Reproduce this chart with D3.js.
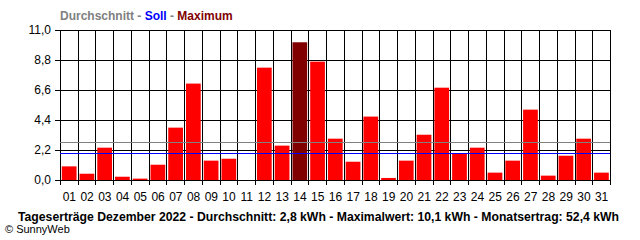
<!DOCTYPE html>
<html>
<head>
<meta charset="utf-8">
<script src="https://cdn.jsdelivr.net/npm/d3@7"></script>
<style>
  body { margin: 0; background: #fff; }
  svg { display: block; font-family: "Liberation Sans", Arial, sans-serif; }
  .tick text { font-size: 12px; fill: #000; }
</style>
</head>
<body>
<div id="chart"></div>
<script>
// daily yields, Dezember 2022 (kWh)
const days = ['01','02','03','04','05','06','07','08','09','10','11','12','13','14','15','16',
              '17','18','19','20','21','22','23','24','25','26','27','28','29','30','31'];
const yields = [1.0, 0.46, 2.37, 0.24, 0.1, 1.12, 3.84, 7.07, 1.42, 1.56, 0, 8.24, 2.52, 10.1, 8.68, 3.03,
                1.34, 4.65, 0.15, 1.42, 3.32, 6.77, 1.98, 2.37, 0.54, 1.42, 5.16, 0.32, 1.78, 3.03, 0.54];
const yTicks = [0, 2.2, 4.4, 6.6, 8.8, 11];
const average = 2.8;
const target = 2.0;
const footer = 'Tageserträge Dezember 2022 - Durchschnitt: 2,8 kWh - Maximalwert: 10,1 kWh - Monatsertrag: 52,4 kWh';

const width = 640, height = 240;
const margin = {top: 30, right: 30, bottom: 60, left: 60};

const svg = d3.select('#chart').append('svg')
    .attr('width', width)
    .attr('height', height);

const x = d3.scaleBand()
    .domain(days)
    .range([margin.left, width - margin.right])
    .padding(0);

const y = d3.scaleLinear()
    .domain([0, 11])
    .range([height - margin.bottom, margin.top]);

const fmt = d => d3.format('.1f')(d).replace('.', ',');

// horizontal grid + y labels
const yAxis = svg.append('g')
    .attr('transform', `translate(${margin.left},0)`)
    .call(d3.axisLeft(y)
        .tickValues(yTicks)
        .tickSize(5)
        .tickFormat(fmt));
yAxis.select('.domain').remove();
yAxis.selectAll('.tick line')
    .attr('x1', -5)
    .attr('x2', width - margin.right - margin.left)
    .attr('stroke', '#000');
yAxis.selectAll('.tick text').attr('x', -9);

// vertical grid (slot boundaries) + ticks below axis
const bounds = days.map(d => x(d)).concat([width - margin.right]);
svg.append('g')
    .selectAll('line')
    .data(bounds)
    .enter().append('line')
    .attr('x1', d => Math.round(d) + 0.5)
    .attr('x2', d => Math.round(d) + 0.5)
    .attr('y1', margin.top)
    .attr('y2', height - margin.bottom + 5)
    .attr('stroke', '#000');

// x labels
svg.append('g')
    .selectAll('text')
    .data(days)
    .enter().append('text')
    .attr('x', d => x(d) + x.bandwidth() / 2 + 0.5)
    .attr('y', height - margin.bottom + 21)
    .attr('text-anchor', 'middle')
    .style('font-size', '12px')
    .text(d => d);

// bars
const maxVal = d3.max(yields);
svg.append('g')
    .selectAll('rect')
    .data(yields)
    .enter().append('rect')
    .attr('x', (d, i) => x(days[i]) + 1.8)
    .attr('width', x.bandwidth() - 3)
    .attr('y', d => y(d))
    .attr('height', d => y(0) - y(d))
    .attr('fill', d => d === maxVal ? '#800000' : '#ff0000');

// average and target lines
svg.append('line')
    .attr('x1', margin.left).attr('x2', width - margin.right)
    .attr('y1', Math.round(y(average)) + 0.5).attr('y2', Math.round(y(average)) + 0.5)
    .attr('stroke', '#808080');
svg.append('line')
    .attr('x1', margin.left).attr('x2', width - margin.right)
    .attr('y1', Math.round(y(target)) + 0.5).attr('y2', Math.round(y(target)) + 0.5)
    .attr('stroke', '#0000ff');

// legend title
const legend = svg.append('text')
    .attr('x', margin.left)
    .attr('y', 20)
    .style('font-size', '12px')
    .style('font-weight', 'bold');
legend.append('tspan').attr('fill', '#808080').text('Durchschnitt - ');
legend.append('tspan').attr('fill', '#0000ff').text('Soll');
legend.append('tspan').attr('fill', '#808080').text(' - ');
legend.append('tspan').attr('fill', '#800000').text('Maximum');

// footer
svg.append('text')
    .attr('x', 18)
    .attr('y', 221)
    .attr('textLength', 601)
    .attr('lengthAdjust', 'spacingAndGlyphs')
    .style('font-size', '12px')
    .style('font-weight', 'bold')
    .text(footer);

svg.append('text')
    .attr('x', 5)
    .attr('y', 233)
    .style('font-size', '11px')
    .text('© SunnyWeb');
</script>
</body>
</html>
